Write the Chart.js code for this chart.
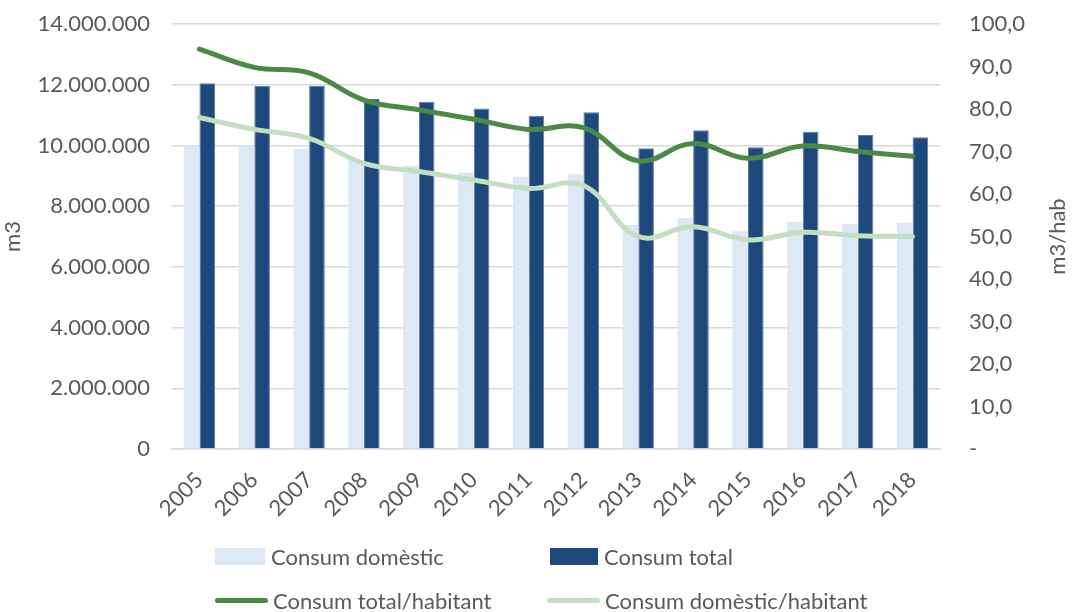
<!DOCTYPE html>
<html>
<head>
<meta charset="utf-8">
<script src="https://cdn.jsdelivr.net/npm/chart.js@4"></script>
<style>
  body { margin: 0; background: #fff; }
  #wrap { position: relative; width: 1072px; height: 612px; }
  #legend { position: absolute; left: 0; top: 0; width: 1072px; height: 612px; pointer-events: none;
    font-family: Lato, "Open Sans", sans-serif; font-size: 22px; color: #595959; }
  .item { position: absolute; display: flex; align-items: center; white-space: nowrap; }
  .box { height: 17px; margin-right: 6px; }
  .ln { height: 5px; border-radius: 3px; margin-right: 5px; }
</style>
</head>
<body>
<div id="wrap">
  <canvas id="chart" width="1072" height="612"></canvas>
  <div id="legend"></div>
</div>
<script>
// Water consumption per year
const years = ['2005', '2006', '2007', '2008', '2009', '2010', '2011', '2012', '2013', '2014', '2015', '2016', '2017', '2018'];
const consumDomestic = [10010000, 9990000, 9880000, 9500000, 9330000, 9110000, 8970000, 9050000, 7380000, 7610000, 7170000, 7480000, 7410000, 7450000];
const consumTotal = [12050000, 11970000, 11970000, 11530000, 11440000, 11220000, 10980000, 11090000, 9910000, 10500000, 9940000, 10450000, 10340000, 10270000];
const totalPerHab = [94.1, 89.8, 88.5, 82.1, 79.8, 77.6, 75.2, 75.6, 67.8, 71.9, 68.4, 71.3, 70.0, 68.9];
const domesticPerHab = [78.0, 75.2, 73.1, 67.2, 65.3, 63.3, 61.3, 62.0, 50.0, 52.3, 49.2, 51.0, 50.2, 50.0];

const textColor = '#595959';
const gridColor = '#d9d9d9';
const font = { family: 'Lato, "Open Sans", sans-serif', size: 22 };

// right axis title reads bottom-to-top, like the left one
const rightTitle = {
    id: 'rightTitle',
    afterDraw: function(chart) {
        const c = chart.ctx;
        const s = chart.scales.y2;
        c.save();
        c.translate(1058, (s.top + s.bottom) / 2);
        c.rotate(-Math.PI / 2);
        c.fillStyle = textColor;
        c.font = font.size + 'px ' + font.family;
        c.textAlign = 'center';
        c.textBaseline = 'middle';
        c.fillText('m3/hab', 0, 0);
        c.restore();
    }
};

const ctx = document.getElementById('chart').getContext('2d');
const chart = new Chart(ctx, {
    data: {
        labels: years,
        datasets: [
            {
                type: 'line',
                label: 'Consum total/habitant',
                data: totalPerHab,
                yAxisID: 'y2',
                borderColor: '#4a8a44',
                borderWidth: 5,
                borderCapStyle: 'round',
                tension: 0.4,
                pointRadius: 0,
                order: 0
            },
            {
                type: 'line',
                label: 'Consum domèstic/habitant',
                data: domesticPerHab,
                yAxisID: 'y2',
                borderColor: '#c3dfc1',
                borderWidth: 5,
                borderCapStyle: 'round',
                tension: 0.4,
                pointRadius: 0,
                order: 0
            },
            {
                type: 'bar',
                label: 'Consum domèstic',
                data: consumDomestic,
                yAxisID: 'y',
                backgroundColor: '#dde8f5',
                categoryPercentage: 0.57,
                barPercentage: 1,
                order: 1
            },
            {
                type: 'bar',
                label: 'Consum total',
                data: consumTotal,
                yAxisID: 'y',
                backgroundColor: '#1f497d',
                borderColor: '#5b7ba3',
                borderWidth: 1,
                categoryPercentage: 0.57,
                barPercentage: 1,
                order: 1
            }
        ]
    },
    plugins: [rightTitle],
    options: {
        responsive: false,
        animation: false,
        layout: { padding: { top: 24, left: 0, right: 0, bottom: 0 } },
        plugins: {
            legend: { display: false },
            tooltip: { enabled: false }
        },
        scales: {
            x: {
                grid: { display: false },
                border: { color: gridColor, width: 1.5 },
                ticks: { color: textColor, font: font, minRotation: 45, maxRotation: 45, padding: 10 },
                afterFit: function(scale) { scale.height = 163; }
            },
            y: {
                position: 'left',
                min: 0,
                max: 14000000,
                grid: { color: gridColor, lineWidth: 1.5, drawTicks: false },
                border: { display: false },
                ticks: {
                    stepSize: 2000000,
                    color: textColor,
                    font: font,
                    padding: 22,
                    callback: function(v) { return v.toLocaleString('de-DE'); }
                },
                title: { display: true, text: 'm3', color: textColor, font: font, padding: 0 },
                afterFit: function(scale) {
                    scale.width = 172;
                    scale.paddingTop = 12;
                    scale.paddingBottom = 12;
                }
            },
            y2: {
                position: 'right',
                min: 0,
                max: 100,
                grid: { display: false },
                border: { display: false },
                ticks: {
                    stepSize: 10,
                    color: textColor,
                    font: font,
                    padding: 21,
                    callback: function(v) { return v === 0 ? '-' : v.toFixed(1).replace('.', ','); }
                },
                afterFit: function(scale) {
                    scale.width = 132;
                    scale.paddingTop = 12;
                    scale.paddingBottom = 12;
                }
            }
        }
    }
});

// Legend laid out in two rows
const legendItems = [
    { ds: 2, x: 215, y: 557, kind: 'box', w: 50 },
    { ds: 3, x: 550, y: 557, kind: 'box', w: 48 },
    { ds: 0, x: 215, y: 601, kind: 'line', w: 53 },
    { ds: 1, x: 547, y: 601, kind: 'line', w: 53 }
];
const legend = document.getElementById('legend');
legendItems.forEach(function(item) {
    const ds = chart.data.datasets[item.ds];
    const el = document.createElement('div');
    el.className = 'item';
    el.style.left = item.x + 'px';
    el.style.top = (item.y - 14) + 'px';
    const mark = document.createElement('span');
    mark.className = item.kind === 'box' ? 'box' : 'ln';
    mark.style.width = item.w + 'px';
    mark.style.background = item.kind === 'box' ? ds.backgroundColor : ds.borderColor;
    const label = document.createElement('span');
    label.textContent = ds.label;
    el.appendChild(mark);
    el.appendChild(label);
    legend.appendChild(el);
});
</script>
</body>
</html>
